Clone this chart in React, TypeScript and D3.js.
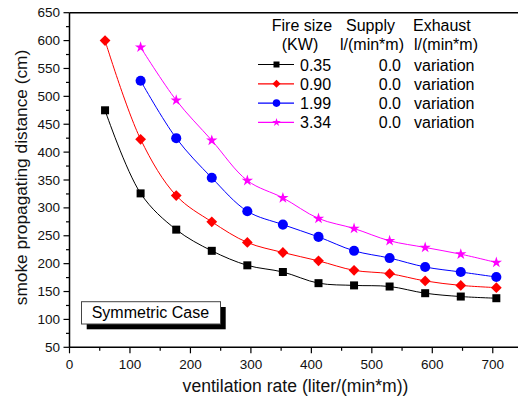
import * as d3 from "d3"

// ventilation rate (liter/(min*m))
const ventRates = [58.8, 117.6, 176.5, 235.3, 294.1, 352.9, 411.8, 470.6, 529.4, 588.2, 647.1, 705.9]

// smoke propagating distance (cm) per fire size
const dist035 = [475, 326, 261, 223, 197, 185, 165, 161, 159, 147, 141, 138]
const dist090 = [600, 423, 322, 275, 238, 220, 205, 188, 182, 169, 161, 157]
const dist199 = [null, 528, 425, 354, 294, 270, 248, 223, 210, 194, 185, 176]
const dist334 = [null, 588, 493, 421, 349, 318, 281, 263, 241, 229, 217, 202]

const fireSizes = ["0.35", "0.90", "1.99", "3.34"]
const supplyRates = ["0.0", "0.0", "0.0", "0.0"]
const exhaustRates = ["variation", "variation", "variation", "variation"]
const seriesColors = ["#000000", "#ff0000", "#0000ff", "#ff00ff"]
const seriesShapes = ["square", "diamond", "circle", "star"]

const xTicks = [0, 100, 200, 300, 400, 500, 600, 700]
const yTicks = [50, 100, 150, 200, 250, 300, 350, 400, 450, 500, 550, 600, 650]

const font = "Liberation Sans, Arial, sans-serif"

function markerPath(shape: string, scale: number) {
  if (shape === "square") return d3.symbol(d3.symbolSquare, 64 * scale * scale)()
  if (shape === "diamond") return d3.symbol(d3.symbolSquare, 58 * scale * scale)()
  if (shape === "circle") return d3.symbol(d3.symbolCircle, 80 * scale * scale)()
  return d3.symbol(d3.symbolStar, 40 * scale * scale)()
}

function Marker({ shape, color, x, y, scale = 1 }: { shape: string; color: string; x: number; y: number; scale?: number }) {
  const rot = shape === "diamond" ? " rotate(45)" : ""
  return <path d={markerPath(shape, scale) || ""} transform={`translate(${x},${y})${rot}`} fill={color} />
}

export default function App() {
  const width = 518
  const height = 398
  const left = 69.5
  const right = 523
  const top = 12.7
  const bottom = 347.3

  const x = d3.scaleLinear().domain([0, 750]).range([left, right])
  const y = d3.scaleLinear().domain([50, 650]).range([bottom, top])

  const allSeries = [dist035, dist090, dist199, dist334]

  // smooth spline through the points
  const line = d3
    .line<[number, number]>()
    .x((d) => x(d[0]))
    .y((d) => y(d[1]))
    .curve(d3.curveCatmullRom.alpha(0.5))

  const minorX = d3.range(50, 750, 100)
  const minorY = d3.range(75, 650, 50)

  return (
    <svg width={width} height={height} style={{ position: "absolute", left: 0, top: 0, background: "#fff" }} fontFamily={font}>
      {/* frame */}
      <line x1={left} x2={right} y1={top} y2={top} stroke="#000" strokeWidth={1.5} />
      <line x1={right} x2={right} y1={top} y2={bottom} stroke="#000" strokeWidth={1.5} />

      {/* series */}
      {allSeries.map((vals, si) => {
        const pts = ventRates
          .map((v, i) => [v, vals[i]] as [number, number | null])
          .filter((p) => p[1] !== null) as [number, number][]
        return (
          <g key={si}>
            <path d={line(pts) || ""} fill="none" stroke={seriesColors[si]} strokeWidth={1} />
            {pts.map((p, i) => (
              <Marker key={i} shape={seriesShapes[si]} color={seriesColors[si]} x={x(p[0])} y={y(p[1])} />
            ))}
          </g>
        )
      })}

      {/* x axis */}
      <line x1={left} x2={right} y1={bottom} y2={bottom} stroke="#000" strokeWidth={1.5} />
      {xTicks.map((t) => (
        <g key={t}>
          <line x1={x(t)} x2={x(t)} y1={bottom} y2={bottom + 6} stroke="#000" strokeWidth={1.2} />
          <text x={x(t)} y={369.3} textAnchor="middle" fontSize={13.5} fill="#111">
            {t}
          </text>
        </g>
      ))}
      {minorX.map((t) => (
        <line key={t} x1={x(t)} x2={x(t)} y1={bottom} y2={bottom + 3.5} stroke="#000" strokeWidth={1.2} />
      ))}

      {/* y axis */}
      <line x1={left} x2={left} y1={top} y2={bottom} stroke="#000" strokeWidth={1.5} />
      {yTicks.map((t) => (
        <g key={t}>
          <line x1={left - 6} x2={left} y1={y(t)} y2={y(t)} stroke="#000" strokeWidth={1.2} />
          <text x={60} y={y(t) + 4.6} textAnchor="end" fontSize={13.5} fill="#111">
            {t}
          </text>
        </g>
      ))}
      {minorY.map((t) => (
        <line key={t} x1={left - 3.5} x2={left} y1={y(t)} y2={y(t)} stroke="#000" strokeWidth={1.2} />
      ))}

      {/* axis titles */}
      <text x={295.5} y={391.5} textAnchor="middle" fontSize={17.6} fill="#111">
        ventilation rate (liter/(min*m))
      </text>
      <text transform="translate(26.7,177.5) rotate(-90)" textAnchor="middle" fontSize={17.3} fill="#111">
        smoke propagating distance (cm)
      </text>

      {/* legend */}
      <g fontSize={16} fill="#000">
        <text x={302} y={30.7} textAnchor="middle">Fire size</text>
        <text x={370.5} y={30.7} textAnchor="middle">Supply</text>
        <text x={413} y={30.7}>Exhaust</text>
        <text x={300} y={50} textAnchor="middle">(KW)</text>
        <text x={372} y={50} textAnchor="middle">l/(min*m)</text>
        <text x={414} y={50}>l/(min*m)</text>
        {fireSizes.map((fs, i) => {
          const by = 70.5 + i * 19.3
          return (
            <g key={fs}>
              <line x1={258} x2={294} y1={by - 6} y2={by - 6} stroke={seriesColors[i]} strokeWidth={1.2} />
              <Marker shape={seriesShapes[i]} color={seriesColors[i]} x={276.5} y={by - 6} scale={0.75} />
              <text x={300} y={by}>{fs}</text>
              <text x={401} y={by} textAnchor="end">{supplyRates[i]}</text>
              <text x={414} y={by}>{exhaustRates[i]}</text>
            </g>
          )
        })}
      </g>

      {/* annotation box */}
      <rect x={86.7} y={307} width={139} height={22.3} fill="#000" />
      <rect x={81.5} y={301.7} width={139} height={22.3} fill="#fff" stroke="#444" strokeWidth={1} />
      <text x={91.7} y={318.3} fontSize={16} fill="#000">
        Symmetric Case
      </text>
    </svg>
  )
}
